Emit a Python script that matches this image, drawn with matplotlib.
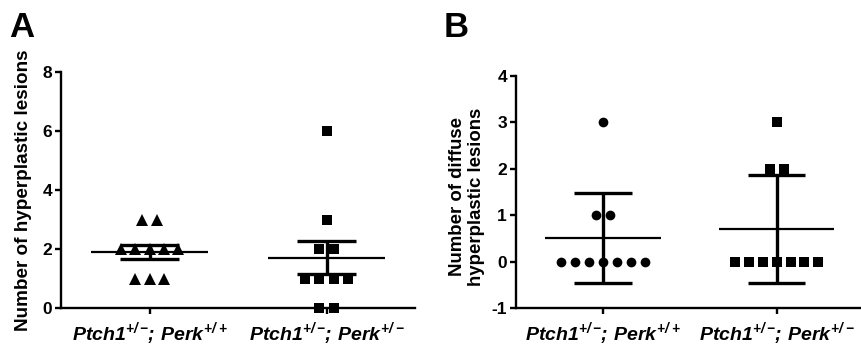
import numpy as np
import matplotlib
matplotlib.use("Agg")
import matplotlib.pyplot as plt

# ---- data ----
group_labels = [r"$Ptch1^{+/-}\!{;}\,Perk^{+/+}$", r"$Ptch1^{+/-}\!{;}\,Perk^{+/-}$"]
a_wt = [3, 3, 2, 2, 2, 2, 2, 1, 1, 1]           # hyperplastic lesions, Perk+/+
a_het = [6, 3, 2, 2, 1, 1, 1, 1, 0, 0]          # hyperplastic lesions, Perk+/-
b_wt = [3, 1, 1, 0, 0, 0, 0, 0, 0, 0]           # diffuse lesions, Perk+/+
b_het = [3, 2, 2, 0, 0, 0, 0, 0, 0, 0]          # diffuse lesions, Perk+/-
a_yticks = [0, 2, 4, 6, 8]
b_yticks = [-1, 0, 1, 2, 3, 4]

plt.rcParams["font.family"] = ["Liberation Sans", "DejaVu Sans"]
plt.rcParams["font.weight"] = "bold"
plt.rcParams["mathtext.fontset"] = "custom"
plt.rcParams["mathtext.rm"] = "Liberation Sans:italic:bold"
plt.rcParams["mathtext.it"] = "Liberation Sans:italic:bold"
plt.rcParams["mathtext.bf"] = "Liberation Sans:italic:bold"
plt.rcParams["mathtext.default"] = "it"

W, H = 861, 345
fig = plt.figure(figsize=(W / 100, H / 100), dpi=100)


def px_axes(l, r, t, b):
    return fig.add_axes([l / W, 1 - b / H, (r - l) / W, (b - t) / H])


def swarm(values, center, step=0.08):
    vals = np.asarray(values, dtype=float)
    xs = np.zeros_like(vals)
    for v in np.unique(vals):
        idx = np.where(vals == v)[0]
        k = len(idx)
        xs[idx] = center + (np.arange(k) - (k - 1) / 2) * step
    return xs, vals


def draw_group(ax, values, center, marker, ms, err_kind):
    xs, vals = swarm(values, center)
    ax.plot(xs, vals, linestyle="none", marker=marker, ms=ms, color="black",
            markeredgewidth=0, zorder=2, clip_on=False)
    m = vals.mean()
    sd = vals.std(ddof=1)
    e = sd / np.sqrt(len(vals)) if err_kind == "sem" else sd
    ax.plot([center - 0.333, center + 0.333], [m, m], color="black", lw=1.6, zorder=3,
            solid_capstyle="butt")
    ax.plot([center, center], [m - e, m + e], color="black", lw=2.4, zorder=3,
            solid_capstyle="butt")
    for y in (m - e, m + e):
        ax.plot([center - 0.165, center + 0.165], [y, y], color="black", lw=2.4, zorder=3,
                solid_capstyle="butt")


def style(ax, yticks):
    for s in ("top", "right"):
        ax.spines[s].set_visible(False)
    for s in ("left", "bottom"):
        ax.spines[s].set_linewidth(1.7)
    ax.set_yticks(yticks)
    ax.set_yticklabels([str(t) for t in yticks], fontsize=12.5, fontweight="bold")
    ax.set_xticks([0, 1])
    ax.set_xticklabels(group_labels, fontsize=14)
    ax.tick_params(axis="both", width=1.7, length=4.5, color="black")
    ax.tick_params(axis="y", pad=2)
    ax.tick_params(axis="x", pad=4)


# ---- panel A ----
axA = px_axes(61, 415, 72, 308)
draw_group(axA, a_wt, 0, "^", 8.5, "sem")
draw_group(axA, a_het, 1, "s", 7.0, "sem")
axA.set_xlim(-0.5, 1.5)
axA.set_ylim(0, 8)
style(axA, a_yticks)
fig.text(24 / W, 1 - 190 / H, "Number of hyperplastic lesions", rotation=90,
         ha="center", va="center", fontsize=13.6, fontweight="bold")
fig.text(9 / W, 1 - 37 / H, "A", fontsize=25, fontweight="bold", va="baseline")

# ---- panel B ----
axB = px_axes(516, 860, 76, 308)
draw_group(axB, b_wt, 0, "o", 7.0, "sd")
draw_group(axB, b_het, 1, "s", 7.0, "sd")
axB.set_xlim(-0.5, 1.48)
axB.set_ylim(-1, 4)
style(axB, b_yticks)
fig.text(467 / W, 1 - 197 / H, "Number of diffuse\nhyperplastic lesions", rotation=90,
         ha="center", va="center", fontsize=13.4, fontweight="bold", linespacing=1.1)
fig.text(444 / W, 1 - 37 / H, "B", fontsize=25, fontweight="bold", va="baseline")

fig.savefig("out.png", dpi=100)
